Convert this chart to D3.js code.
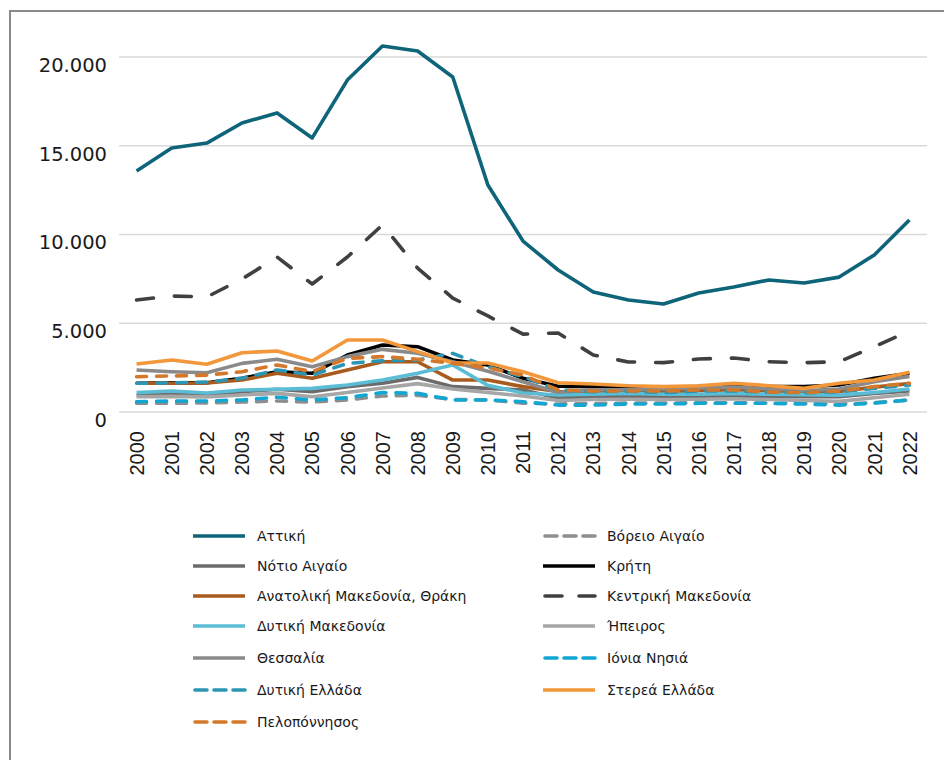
<!DOCTYPE html>
<html>
<head>
<meta charset="utf-8">
<script src="https://cdn.jsdelivr.net/npm/d3@7"></script>
<style>
  html, body { margin: 0; padding: 0; background: #fff; }
  svg { display: block; font-family: "DejaVu Sans", sans-serif; }
</style>
</head>
<body>
<svg id="chart" width="944" height="760"></svg>
<script>
// Years on the category axis
const years = ["2000","2001","2002","2003","2004","2005","2006","2007","2008","2009","2010","2011",
               "2012","2013","2014","2015","2016","2017","2018","2019","2020","2021","2022"];

// Value axis ticks
const yTicks = [0, 5000, 10000, 15000, 20000];

// Region names, in series order
const regions = ["Αττική","Βόρειο Αιγαίο","Νότιο Αιγαίο","Κρήτη","Ανατολική Μακεδονία, Θράκη",
                 "Κεντρική Μακεδονία","Δυτική Μακεδονία","Ήπειρος","Θεσσαλία","Ιόνια Νησιά",
                 "Δυτική Ελλάδα","Στερεά Ελλάδα","Πελοπόννησος"];

// Yearly values per region
const attiki      = [13580,14870,15150,16280,16850,15440,18700,20620,20340,18870,12790,9630,8000,6760,6310,6085,6700,7040,7440,7270,7600,8850,10820];
const voreioAig   = [490,490,510,560,620,560,680,900,940,710,680,500,450,480,500,500,520,520,500,480,450,520,680];
const notioAig    = [960,1010,960,1140,1280,1140,1430,1620,1950,1430,1330,1240,790,860,860,860,860,860,860,860,860,1050,1180];
const kriti       = [1620,1640,1650,1900,2270,2180,3210,3775,3680,2930,2650,1900,1450,1430,1430,1370,1430,1460,1430,1430,1520,1900,2180];
const anMakThraki = [1620,1620,1630,1800,2180,1900,2370,2830,2830,1800,1800,1430,1150,1100,1150,1150,1200,1250,1200,1100,1150,1400,1600];
const kentMak     = [6310,6535,6480,7490,8730,7210,8730,10540,8110,6420,5410,4390,4450,3210,2820,2780,2990,3040,2830,2780,2830,3680,4560];
const dytMak      = [1090,1180,1070,1240,1280,1330,1520,1800,2180,2650,1500,1070,960,1000,1050,1000,1000,1050,1000,980,950,1100,1300];
const ipeiros     = [860,880,850,960,1050,860,1100,1350,1600,1300,1100,900,650,700,720,700,720,750,700,650,600,800,1000];
const thessalia   = [2370,2270,2210,2740,2970,2550,3120,3530,3310,2830,2300,1700,1100,1250,1250,1300,1350,1400,1300,1200,1300,1700,2000];
const ioniaNisia  = [580,620,620,680,830,680,810,1090,1050,680,680,580,390,390,450,450,490,490,490,450,390,500,680];
const dytEllada   = [1620,1640,1690,1900,2370,2080,2740,2890,2930,3300,2550,1990,1240,1140,1180,1090,1180,1180,1130,1090,1130,1330,1520];
const stereaEll   = [2700,2930,2690,3340,3440,2870,4060,4060,3400,2760,2760,2270,1650,1580,1480,1430,1480,1620,1480,1330,1620,1800,2240];
const peloponnisos= [1990,2030,2080,2270,2650,2270,3020,3120,2970,2740,2480,2080,1240,1180,1180,1180,1240,1240,1130,1090,1180,1430,1620];

const seriesValues = [attiki, voreioAig, notioAig, kriti, anMakThraki, kentMak, dytMak,
                      ipeiros, thessalia, ioniaNisia, dytEllada, stereaEll, peloponnisos];

// Stroke styles per series
const styles = [
  { color: "#0e6479", dash: null,    width: 3.6 },
  { color: "#8e8e8e", dash: "10,10", width: 3.6 },
  { color: "#6b6b6b", dash: null,    width: 3.6 },
  { color: "#000000", dash: null,    width: 3.6 },
  { color: "#a95b1d", dash: null,    width: 3.6 },
  { color: "#404040", dash: "17,21", width: 3.6 },
  { color: "#5bbdd5", dash: null,    width: 3.6 },
  { color: "#a6a6a6", dash: null,    width: 3.6 },
  { color: "#8a8a8a", dash: null,    width: 3.6 },
  { color: "#12a7d2", dash: "10,10", width: 3.6 },
  { color: "#2b96b3", dash: "10,10", width: 3.6 },
  { color: "#f2973a", dash: null,    width: 3.6 },
  { color: "#d4782b", dash: "10,10", width: 3.6 }
];

const svg = d3.select("#chart");

// Outer frame (left and top edges)
svg.append("path")
  .attr("d", "M10,760 L10,11 L944,11")
  .attr("fill", "none")
  .attr("stroke", "#8a8a8a")
  .attr("stroke-width", 2);

const plot = { left: 119, right: 927, top: 57, bottom: 412 };

const x = d3.scaleBand().domain(years).range([plot.left, plot.right]);
const y = d3.scaleLinear().domain([0, 20000]).range([plot.bottom, plot.top]);
const cx = d => x(d) + x.bandwidth() / 2;

// Gridlines
svg.append("g")
  .selectAll("line")
  .data(yTicks)
  .join("line")
  .attr("x1", plot.left).attr("x2", plot.right)
  .attr("y1", d => y(d)).attr("y2", d => y(d))
  .attr("stroke", "#d9d9d9")
  .attr("stroke-width", 1.5);

// Value axis labels
const fmt = v => d3.format(",")(v).replace(/,/g, ".");
const yAxis = d3.axisLeft(y).tickValues(yTicks).tickFormat(fmt).tickSize(0).tickPadding(0);
const yg = svg.append("g").attr("transform", "translate(107,8)").call(yAxis);
yg.select(".domain").remove();
yg.selectAll("text").attr("font-size", 19.5).attr("fill", "#1a1a1a").attr("font-family", "DejaVu Sans, sans-serif");

// Year labels, rotated
const xAxis = d3.axisBottom(x).tickSize(0).tickPadding(0);
const xg = svg.append("g").call(xAxis);
xg.select(".domain").remove();
xg.selectAll(".tick").attr("transform", d => `translate(${cx(d)},431)`);
xg.selectAll("text")
  .attr("transform", "rotate(-90)")
  .attr("text-anchor", "end")
  .attr("x", 0).attr("y", 0).attr("dy", "0.36em")
  .attr("font-size", 20).attr("fill", "#1a1a1a").attr("font-family", "Liberation Sans, Arial, sans-serif");

// Series lines
const line = d3.line().x((d, i) => cx(years[i])).y(d => y(d));
svg.append("g")
  .selectAll("path")
  .data(seriesValues)
  .join("path")
  .attr("d", d => line(d))
  .attr("fill", "none")
  .attr("stroke", (d, i) => styles[i].color)
  .attr("stroke-width", (d, i) => styles[i].width)
  .attr("stroke-dasharray", (d, i) => styles[i].dash)
  .attr("stroke-linecap", (d, i) => styles[i].dash ? "round" : "butt")
  .attr("stroke-linejoin", "round");

// Legend: two columns, filled row by row
const legendRowsY = [536, 566, 596, 626, 658, 690, 722];
const legendColX = [193, 543];
const legend = svg.append("g");
regions.forEach((name, i) => {
  const col = i % 2, row = Math.floor(i / 2);
  const lx = legendColX[col], ly = legendRowsY[row];
  const s = styles[i];
  legend.append("line")
    .attr("x1", lx + (s.dash ? 2 : 0)).attr("x2", lx + 52)
    .attr("y1", ly).attr("y2", ly)
    .attr("stroke", s.color)
    .attr("stroke-width", s.width)
    .attr("stroke-dasharray", s.dash ? (i === 5 ? "17,17" : "12,7") : null)
    .attr("stroke-linecap", s.dash ? "round" : "butt");
  legend.append("text")
    .attr("x", lx + 64).attr("y", ly).attr("dy", "0.36em")
    .attr("font-size", 14).attr("fill", "#1a1a1a")
    .text(name);
});
</script>
</body>
</html>
